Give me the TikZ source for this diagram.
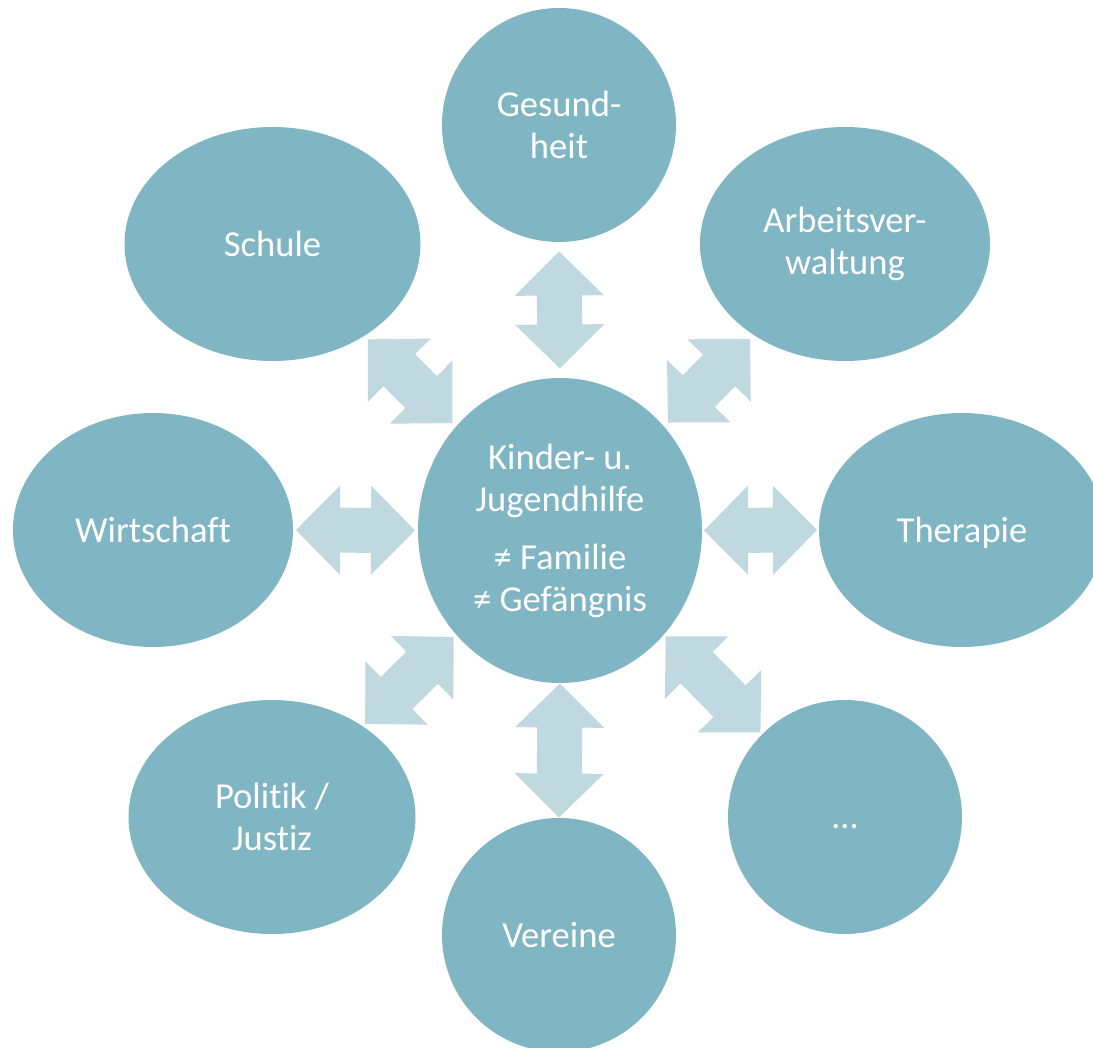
\documentclass[tikz,border=0pt]{standalone}
\usepackage{fontspec}
\setmainfont{Carlito}[Ligatures={NoCommon}]
\usepackage{tikz}
\usetikzlibrary{calc}
\usetikzlibrary{shapes.geometric}
\definecolor{bubblefill}{RGB}{128, 181, 195}
\definecolor{linkfill}{RGB}{192, 216, 223}
\tikzset{
    bubble/.style={ellipse, fill=bubblefill, text=white, inner sep=0pt, align=center,
        font=\fontsize{36.6pt}{42pt}\selectfont},
}
\newcommand{\linkarrow}[3]{% {from anchor}{to anchor}{length}
    \path ($(#1)!0.5!(#2)$) coordinate (mid);
    \path let \p1=(#1), \p2=(#2), \n1={atan2(\y2-(\y1),\x2-(\x1))} in \pgfextra{\xdef\linkangle{\n1}};
    \fill[linkfill, shift={(mid)}, rotate=\linkangle] (-#3/2,0) -- (-#3/2+44,44.5) -- (-#3/2+44,22.5) -- (#3/2-44,22.5) -- (#3/2-44,44.5)
        -- (#3/2,0) -- (#3/2-44,-44.5) -- (#3/2-44,-22.5) -- (-#3/2+44,-22.5) -- (-#3/2+44,-44.5) -- cycle; % double arrow
}

\begin{document}
\begin{tikzpicture}[x=1pt, y=-1pt]
    \useasboundingbox (0,0) rectangle (1093,1048);

    \node[bubble, minimum width=284pt, minimum height=305pt] (kjh) at (560,530.5) {Kinder- u.\\Jugendhilfe\\[16pt]≠ Familie\\≠ Gefängnis};

    \node[bubble, minimum width=234pt, minimum height=234pt] (ges) at (559,125) {Gesund-\\heit};
    \node[bubble, minimum width=296pt, minimum height=234pt] (schule) at (272.5,244) {Schule};
    \node[bubble, minimum width=290pt, minimum height=234pt] (arb) at (845,244) {Arbeitsver-\\waltung};
    \node[bubble, minimum width=280pt, minimum height=234pt] (wirt) at (153,530) {Wirtschaft};
    \node[bubble, minimum width=286pt, minimum height=234pt, text depth=0pt] (ther) at (962,530) {Therapie};
    \node[bubble, minimum width=287pt, minimum height=234pt] (pol) at (272,817) {Politik /\\Justiz};
    \node[bubble, minimum width=234pt, minimum height=234pt] (ver) at (559,935) {Vereine};
    \node[bubble, minimum width=234pt, minimum height=234pt, text height=23.6pt, text depth=0pt] (more) at (845,817) {…};

    \linkarrow{kjh.north}{ges.south}{117};
    \linkarrow{kjh.south}{ver.north}{134};
    \linkarrow{kjh.west}{wirt.east}{119};
    \linkarrow{kjh.east}{ther.west}{113};
    \linkarrow{kjh.135}{schule.-45}{119};
    \linkarrow{kjh.45}{arb.-135}{117};
    \linkarrow{kjh.-135}{pol.45}{124};
    \linkarrow{kjh.-45}{more.135}{135};

\end{tikzpicture}
\end{document}
